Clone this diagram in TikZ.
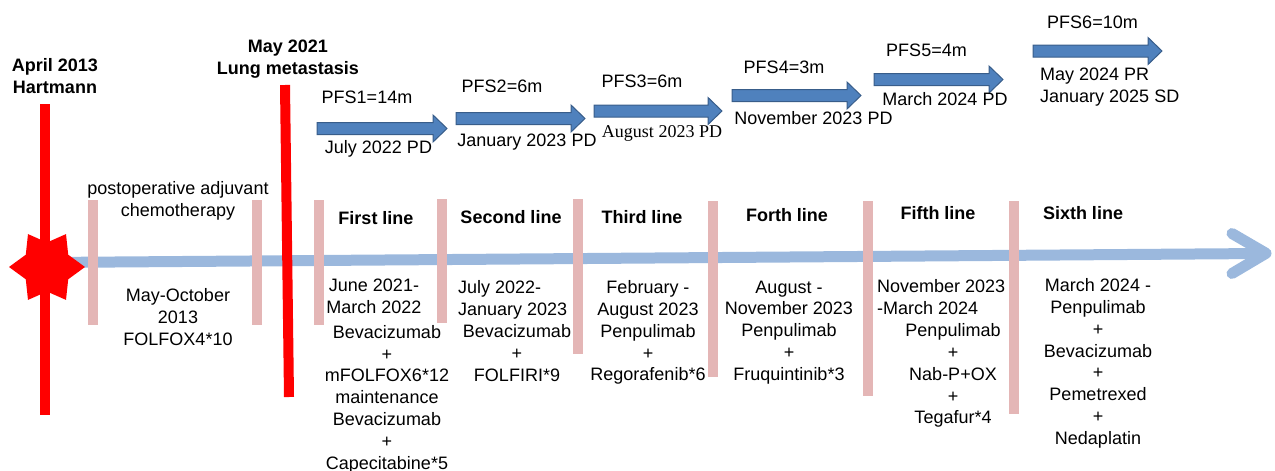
\documentclass[tikz,border=0pt]{standalone}
\usepackage{fontspec}
\setmainfont{Liberation Sans}
\newfontfamily\timesfont{Liberation Serif}
\usetikzlibrary{shapes.geometric}
\definecolor{tlblue}{HTML}{9BB8DD}
\definecolor{barpink}{HTML}{E4B6B6}
\definecolor{arrfill}{HTML}{4F81BD}
\definecolor{arrline}{HTML}{385D8A}
\definecolor{mred}{HTML}{FF0000}
\newcommand{\pfsarrow}[3]{%
  \filldraw[blockarrow] ({#1},{#3-6}) -- ({#2-14},{#3-6}) -- ({#2-14},{#3-13.5}) -- ({#2},{#3})
   -- ({#2-14},{#3+13.5}) -- ({#2-14},{#3+6}) -- ({#1},{#3+6}) -- cycle;}
\begin{document}
\begin{tikzpicture}[x=1pt,y=-1pt,
  lbl/.style={inner sep=0pt, font=\fontsize{18}{21.8}\selectfont},
  bold/.style={inner sep=0pt, font=\fontsize{18}{21.8}\selectfont\bfseries},
  serif/.style={inner sep=0pt, font=\fontsize{18}{21.8}\selectfont\timesfont},
  timeline/.style={draw=tlblue, line width=11pt, line cap=round, line join=round},
  pinkbar/.style={draw=barpink, line width=10.5pt},
  redbar/.style={draw=mred, line width=10pt},
  blockarrow/.style={fill=arrfill, draw=arrline, line width=1pt}]
\useasboundingbox (0,0) rectangle (1275,471);
% timeline
\coordinate (tlstart) at (47,262.5);
\coordinate (tlend) at (1262,253.5);
\coordinate (chevA) at (1232,233.5);
\coordinate (chevT) at (1266,253.3);
\coordinate (chevB) at (1232,273.5);
\draw[timeline] (tlstart) -- (tlend);
\draw[timeline] (chevA) -- (chevT) -- (chevB);
% pink bars
\draw[pinkbar] (93,200) -- (93,325);
\draw[pinkbar] (257,200) -- (257,325);
\draw[pinkbar] (319,200) -- (319,325);
\draw[pinkbar] (442,199) -- (442,323);
\draw[pinkbar] (578,199) -- (578,354);
\draw[pinkbar] (713,201) -- (713,377);
\draw[pinkbar] (868,201) -- (868,396);
\draw[pinkbar] (1014,201) -- (1014,414);
% red bars
\draw[redbar] (45,104) -- (45,415);
\draw[redbar] (285,85) -- (289,397);
% star
\node[star, star points=6, star point ratio=1.55, minimum size=76pt, inner sep=0pt,
      fill=mred, draw=none, shape border rotate=30] (star) at (47,267) {};
% block arrows
\pfsarrow{317}{447}{128.5}
\pfsarrow{456}{585}{118.5}
\pfsarrow{594}{722}{111}
\pfsarrow{732}{861}{95.5}
\pfsarrow{874}{1003}{79.5}
\pfsarrow{1033}{1162}{51}
% top labels
\node[bold, align=center, anchor=north] (hartmann) at (55,58) {April 2013\\Hartmann};
\node[bold, align=center, anchor=north] (lungmet) at (288,40) {May 2021\\Lung metastasis};
\node[lbl, anchor=base] (pfs1) at (367,103.5) {PFS1=14m};
\node[lbl, anchor=base] (d1) at (378.5,153.5) {July 2022 PD};
\node[lbl, anchor=base] (pfs2) at (502,92.5) {PFS2=6m};
\node[lbl, anchor=base] (d2) at (527,146.5) {January 2023 PD};
\node[lbl, anchor=base] (pfs3) at (642,87.5) {PFS3=6m};
\node[serif, anchor=base] (d3) at (662,137) {August 2023 PD};
\node[lbl, anchor=base] (pfs4) at (784,73.5) {PFS4=3m};
\node[lbl, anchor=base] (d4) at (813.5,124.5) {November 2023 PD};
\node[lbl, anchor=base] (pfs5) at (926.5,56.5) {PFS5=4m};
\node[lbl, anchor=base] (d5) at (945,105.5) {March 2024 PD};
\node[lbl, anchor=base] (pfs6) at (1092.5,28.5) {PFS6=10m};
\node[lbl, align=left, anchor=north west] (d6) at (1040,67.5) {May 2024 PR\\January 2025 SD};
% adjuvant
\node[lbl, align=center, anchor=north] (postop) at (178,181) {postoperative adjuvant\\chemotherapy};
\node[lbl, align=center, anchor=north] (mayoct) at (178,288.5) {May-October\\2013\\FOLFOX4*10};
% line headers
\node[bold, anchor=base] (h1) at (376,224.5) {First line};
\node[bold, anchor=base] (h2) at (511,223.5) {Second line};
\node[bold, anchor=base] (h3) at (642,223.5) {Third line};
\node[bold, anchor=base] (h4) at (787,221.5) {Forth line};
\node[bold, anchor=base] (h5) at (938,219.5) {Fifth line};
\node[bold, anchor=base] (h6) at (1083,219.5) {Sixth line};
% regimens
\node[lbl, align=center, anchor=north] (r1date) at (374,278.5) {June 2021-\\March 2022};
\node[lbl, align=center, anchor=north] (r1drug) at (387,325) {Bevacizumab\\+\\mFOLFOX6*12\\maintenance\\Bevacizumab\\+\\Capecitabine*5};
\node[lbl, align=left, anchor=north west] (r2date) at (458,280.5) {July 2022-\\January 2023};
\node[lbl, align=center, anchor=north] (r2drug) at (517,324.5) {Bevacizumab\\+\\FOLFIRI*9};
\node[lbl, align=center, anchor=north] (r3) at (648,280.5) {February -\\August 2023\\Penpulimab\\+\\Regorafenib*6};
\node[lbl, align=center, anchor=north] (r4) at (789,280.5) {August -\\November 2023\\Penpulimab\\+\\Fruquintinib*3};
\node[lbl, align=left, anchor=north west] (r5date) at (877,279.5) {November 2023\\-March 2024};
\node[lbl, align=center, anchor=north] (r5drug) at (953,323.5) {Penpulimab\\+\\Nab-P+OX\\+\\Tegafur*4};
\node[lbl, align=center, anchor=north] (r6) at (1098,278.5) {March 2024 -\\Penpulimab\\+\\Bevacizumab\\+\\Pemetrexed\\+\\Nedaplatin};
\end{tikzpicture}
\end{document}
